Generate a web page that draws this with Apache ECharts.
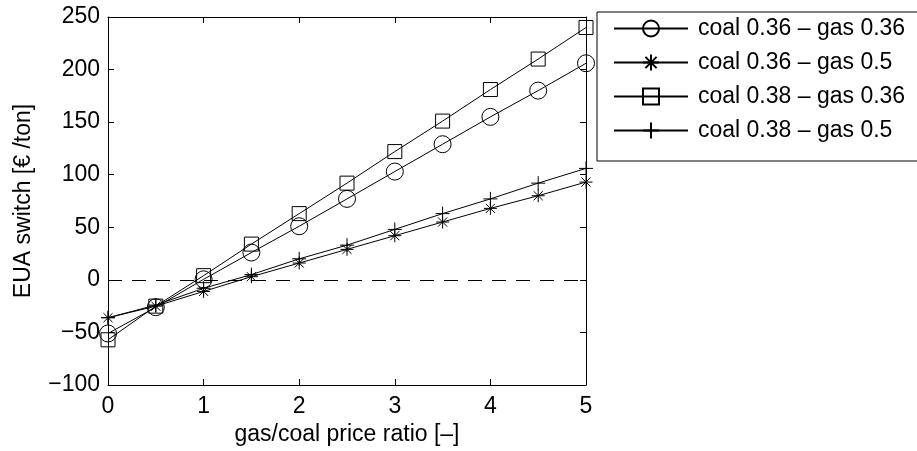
<!DOCTYPE html>
<html>
<head>
<meta charset="utf-8">
<script src="https://cdn.jsdelivr.net/npm/echarts@6/dist/echarts.min.js"></script>
<style>
  html, body { margin: 0; padding: 0; background: #fff; }
  #chart { width: 917px; height: 451px; }
</style>
</head>
<body>
<div id="chart"></div>
<script>
// gas/coal price ratio (x)
const ratio = [0, 0.5, 1, 1.5, 2, 2.5, 3, 3.5, 4, 4.5, 5];
// EUA switch price per case
const coal36gas36 = [-51, -26, 0.5, 26, 51, 77, 103, 129, 155, 180, 206];
const coal36gas50 = [-36, -25, -11, 3, 16, 29, 42, 55, 68, 80, 93];
const coal38gas36 = [-57, -25, 4, 34, 63, 92, 122, 151, 181, 210, 240];
const coal38gas50 = [-36, -24, -8, 5, 20, 33, 48, 63, 77, 92, 106];
const seriesNames = ['coal 0.36 \u2013 gas 0.36', 'coal 0.36 \u2013 gas 0.5', 'coal 0.38 \u2013 gas 0.36', 'coal 0.38 \u2013 gas 0.5'];
const zeroLevel = 0;

const FONT = '"Liberation Sans", Arial, Helvetica, sans-serif';
const FS = 23;

const chart = echarts.init(document.getElementById('chart'), null, {renderer: 'canvas'});

// marker shapes (matlab style)
const starPath = 'path://M10,0L10,20M0,10L20,10M3,3L17,17M3,17L17,3';
const plusPath = 'path://M10,0L10,20M0,10L20,10';

function mkSeries(name, vals, symbol, size) {
  return {
    name: name,
    type: 'line',
    xAxisIndex: 0,
    yAxisIndex: 0,
    data: ratio.map((x, i) => [x, vals[i]]),
    symbol: symbol,
    symbolSize: size,
    showAllSymbol: true,
    clip: false,
    lineStyle: {color: '#000', width: 1},
    itemStyle: {color: 'rgba(255,255,255,0)', borderColor: '#000', borderWidth: 1},
    emphasis: {disabled: true}
  };
}

const axisCommon = {
  axisLine: {show: true, onZero: false, lineStyle: {color: '#000', width: 1}},
  axisTick: {show: true, inside: true, length: 6, lineStyle: {color: '#000', width: 1}},
  splitLine: {show: false}
};

let series = [
  mkSeries(seriesNames[0], coal36gas36, 'circle', 17),
  mkSeries(seriesNames[1], coal36gas50, starPath, 13),
  mkSeries(seriesNames[2], coal38gas36, 'rect', 14),
  mkSeries(seriesNames[3], coal38gas50, plusPath, 14)
];
// dashed zero line
series[0].markLine = {
  silent: true,
  symbol: ['none', 'none'],
  label: {show: false},
  lineStyle: {color: '#000', type: [14, 10], width: 1},
  data: [{yAxis: zeroLevel}]
};

const option = {
  animation: false,
  backgroundColor: '#fff',
  textStyle: {fontFamily: FONT, color: '#000'},
  grid: {left: 108, right: 331, top: 17, bottom: 66, containLabel: false},
  legend: {
    orient: 'vertical',
    left: 597,
    top: 12,
    padding: [5, 30, 19, 16],
    itemWidth: 74,
    itemHeight: 20,
    itemGap: 11,
    borderColor: '#000',
    borderWidth: 1,
    backgroundColor: '#fff',
    selectedMode: false,
    textStyle: {fontFamily: FONT, fontSize: FS, color: '#000', lineHeight: 23, padding: [0, 0, 0, 5]},
    data: seriesNames
  },
  xAxis: [
    Object.assign({
      type: 'value', min: 0, max: 5, interval: 1, position: 'bottom',
      name: 'gas/coal price ratio [\u2013]', nameLocation: 'middle', nameGap: 37,
      nameTextStyle: {fontFamily: FONT, fontSize: FS, color: '#000'},
      axisLabel: {fontFamily: FONT, fontSize: FS, color: '#000', margin: 10}
    }, axisCommon),
    Object.assign({
      type: 'value', min: 0, max: 5, interval: 1, position: 'top',
      axisLabel: {show: false}
    }, axisCommon)
  ],
  yAxis: [
    Object.assign({
      type: 'value', min: -100, max: 250, interval: 50, position: 'left',
      name: 'EUA switch [\u20ac /ton]', nameLocation: 'middle', nameGap: 73, nameRotate: 90,
      nameTextStyle: {fontFamily: FONT, fontSize: FS, color: '#000'},
      axisLabel: {fontFamily: FONT, fontSize: FS, color: '#000', margin: 8,
        formatter: v => (v < 0 ? '\u2212' + Math.abs(v) : String(v))}
    }, axisCommon),
    Object.assign({
      type: 'value', min: -100, max: 250, interval: 50, position: 'right',
      axisLabel: {show: false}
    }, axisCommon)
  ],
  series: series
};

chart.setOption(option);
</script>
</body>
</html>
